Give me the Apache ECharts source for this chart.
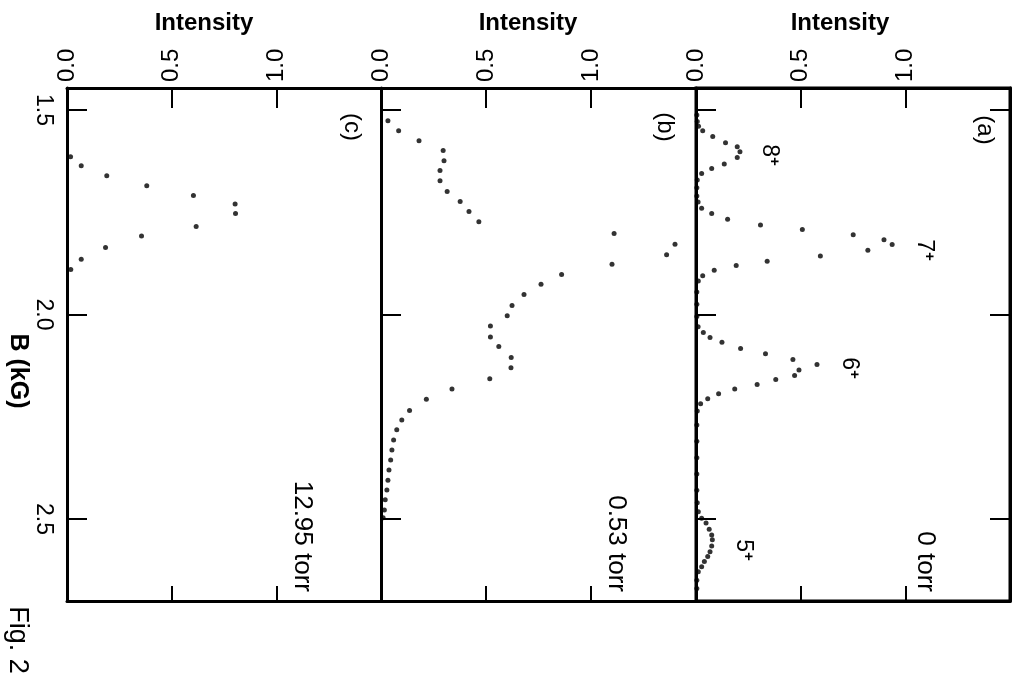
<!DOCTYPE html>
<html>
<head>
<meta charset="utf-8">
<script src="https://cdn.jsdelivr.net/npm/echarts@6/dist/echarts.min.js"></script>
<style>html,body{margin:0;padding:0;background:#fff}#chart{width:1019px;height:684px}</style>
</head>
<body>
<div id="chart"></div>
<script>
// ---- data (B in kG, intensity in arbitrary units) ----
const intensityTicks = [0, 0.5, 1.0];
const bTicks = [1.5, 2.0, 2.5];

// panel (c) 12.95 torr
const cB = [1.614,1.636,1.661,1.685,1.709,1.730,1.753,1.785,1.808,1.836,1.865,1.890];
const cI = [0.017,0.068,0.190,0.381,0.604,0.803,0.805,0.617,0.356,0.184,0.068,0.018];

// panel (b) 0.53 torr
const bB = [1.526,1.551,1.575,1.599,1.624,1.648,1.673,1.699,1.724,1.748,1.773,1.802,1.828,1.854,1.877,1.902,1.926,1.951,1.978,2.003,2.028,2.055,2.078,2.105,2.130,2.157,2.182,2.207,2.235,2.258,2.282,2.307,2.331,2.356,2.380,2.405,2.429,2.453,2.478,2.497];
const bI = [0.033,0.084,0.181,0.296,0.300,0.281,0.281,0.315,0.377,0.419,0.466,1.110,1.400,1.360,1.100,0.860,0.762,0.681,0.624,0.601,0.521,0.521,0.561,0.620,0.619,0.518,0.338,0.216,0.136,0.099,0.075,0.060,0.052,0.046,0.038,0.033,0.028,0.020,0.016,0.010];

// panel (a) 0 torr
const aB = [1.512,1.528,1.540,1.551,1.565,1.580,1.590,1.602,1.616,1.632,1.643,1.655,1.671,1.690,1.710,1.725,1.740,1.753,1.767,1.781,1.792,1.805,1.817,1.829,1.843,1.857,1.870,1.880,1.892,1.905,1.918,1.945,1.975,2.005,2.030,2.044,2.056,2.068,2.083,2.096,2.110,2.122,2.136,2.149,2.159,2.171,2.182,2.194,2.206,2.218,2.236,2.270,2.310,2.350,2.390,2.430,2.460,2.482,2.498,2.510,2.525,2.539,2.551,2.566,2.580,2.592,2.604,2.617,2.629,2.650,2.670];
const aI = [0.004,0.006,0.012,0.032,0.080,0.141,0.197,0.210,0.197,0.135,0.075,0.027,0.006,0.004,0.004,0.010,0.027,0.075,0.151,0.308,0.508,0.751,0.898,0.937,0.821,0.594,0.340,0.192,0.087,0.032,0.011,0.004,0.004,0.004,0.010,0.035,0.067,0.124,0.213,0.332,0.463,0.578,0.492,0.471,0.381,0.292,0.185,0.108,0.056,0.022,0.006,0.004,0.004,0.004,0.004,0.004,0.006,0.011,0.027,0.048,0.063,0.075,0.078,0.075,0.067,0.056,0.040,0.027,0.011,0.004,0.004];

const panelTags = ['(c)', '(b)', '(a)'];
const pressures = ['12.95 torr', '0.53 torr', '0 torr'];
const peakLabels = ['8', '7', '6', '5'];

// ---- layout ----
const FONT = '"Liberation Sans", Arial, sans-serif';
const grids = [
  {left: 67, top: 88, width: 314, height: 513},
  {left: 381, top: 88, width: 315, height: 513},
  {left: 696, top: 88, width: 314, height: 513, show: true, borderColor: '#000', borderWidth: 3, backgroundColor: 'transparent'}
];
const B_MIN = 1.4462, B_MAX = 2.7005;
const lineStyle = {color: '#000', width: 3};
const tickStyle = {color: '#000', width: 2};

const xAxes = [], yAxes = [];
grids.forEach((g, i) => {
  xAxes.push({
    gridIndex: i, type: 'value', position: 'top', min: 0, max: 1.5,
    axisLine: {show: true, onZero: false, lineStyle},
    axisTick: {show: true, inside: true, length: 20, lineStyle: tickStyle, customValues: [0.5, 1.0]},
    axisLabel: {show: true, rotate: -90, margin: 6, fontSize: 24, color: '#000', fontFamily: FONT,
      customValues: intensityTicks, formatter: v => v.toFixed(1)},
    splitLine: {show: false}
  });
  xAxes.push({
    gridIndex: i, type: 'value', position: 'bottom', min: 0, max: 1.5,
    axisLine: {show: true, onZero: false, lineStyle},
    axisTick: {show: true, inside: true, length: 15, lineStyle: tickStyle, customValues: [0.5, 1.0]},
    axisLabel: {show: false}, splitLine: {show: false}
  });
  yAxes.push({
    gridIndex: i, type: 'value', position: 'left', inverse: true, min: B_MIN, max: B_MAX,
    axisLine: {show: true, onZero: false, lineStyle},
    axisTick: {show: true, inside: true, length: 20, lineStyle: tickStyle, customValues: bTicks},
    axisLabel: {show: i === 0, rotate: -90, margin: 12, fontSize: 23, color: '#000', fontFamily: FONT,
      customValues: bTicks, formatter: v => v.toFixed(1)},
    splitLine: {show: false}
  });
});
// right border ticks of panel (a)
yAxes.push({
  gridIndex: 2, type: 'value', position: 'right', inverse: true, min: B_MIN, max: B_MAX,
  axisLine: {show: true, onZero: false, lineStyle},
  axisTick: {show: true, inside: true, length: 20, lineStyle: tickStyle, customValues: bTicks},
  axisLabel: {show: false}, splitLine: {show: false}
});

function pts(I, B) { return I.map((v, k) => [v, B[k]]); }
const seriesData = [pts(cI, cB), pts(bI, bB), pts(aI, aB)];
const series = seriesData.map((d, i) => ({
  type: 'scatter', xAxisIndex: i * 2, yAxisIndex: i, data: d,
  symbol: 'circle', symbolSize: 5, itemStyle: {color: '#000'}, silent: true
}));

function vtext(x, y, text, size, align, weight) {
  return {
    type: 'text', x, y, rotation: -Math.PI / 2, silent: true,
    style: {text, fontSize: size, fontWeight: weight || 'normal', fontFamily: FONT, fill: '#000', align: align || 'center', verticalAlign: 'middle'}
  };
}
function htext(x, y, text) {
  return {type: 'text', x, y, silent: true,
    style: {text, fontSize: 24, fontWeight: 'bold', fontFamily: FONT, fill: '#000', align: 'center', verticalAlign: 'middle'}};
}
function peak(x, y, t) {
  return {
    type: 'text', x, y, rotation: -Math.PI / 2, silent: true,
    style: {
      text: '{n|' + t + '}{s|+}', fontFamily: FONT, fill: '#000', align: 'center', verticalAlign: 'middle',
      rich: {n: {fontSize: 23, fontFamily: FONT, lineHeight: 24, verticalAlign: 'bottom'},
             s: {fontSize: 15, fontFamily: FONT, fontWeight: 'bold', lineHeight: 24, verticalAlign: 'top'}}
    }
  };
}

const graphic = [
  htext(204, 23, 'Intensity'),
  htext(528, 23, 'Intensity'),
  htext(840, 23, 'Intensity'),
  vtext(352, 127, panelTags[0], 24),
  vtext(665, 127, panelTags[1], 24),
  vtext(985, 130, panelTags[2], 24),
  vtext(302, 592, pressures[0], 26, 'right'),
  vtext(616, 592, pressures[1], 26, 'right'),
  vtext(925, 592, pressures[2], 26, 'right'),
  vtext(18, 371, 'B (kG)', 25, 'center', 'bold'),
  vtext(17, 640, 'Fig. 2', 27),
  peak(770, 155, peakLabels[0]),
  peak(925, 250, peakLabels[1]),
  peak(850, 368, peakLabels[2]),
  peak(744, 550, peakLabels[3])
];

const chart = echarts.init(document.getElementById('chart'), null, {renderer: 'canvas'});
chart.setOption({
  animation: false,
  backgroundColor: '#fff',
  grid: grids,
  xAxis: xAxes,
  yAxis: yAxes,
  series,
  graphic
});
</script>
</body>
</html>
